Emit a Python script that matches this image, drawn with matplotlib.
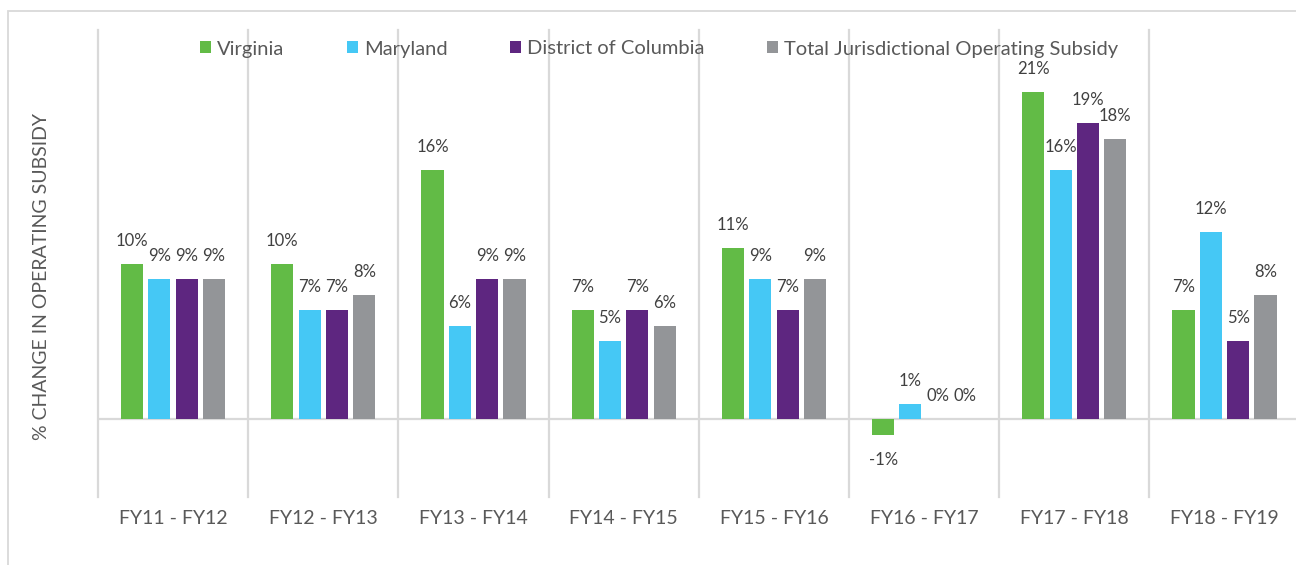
import matplotlib
matplotlib.use("Agg")
import matplotlib.pyplot as plt
from matplotlib.patches import Rectangle
import numpy as np

plt.rcParams['font.family'] = ['Lato', 'DejaVu Sans']

categories = ["FY11 - FY12", "FY12 - FY13", "FY13 - FY14", "FY14 - FY15",
              "FY15 - FY16", "FY16 - FY17", "FY17 - FY18", "FY18 - FY19"]
series_names = ["Virginia", "Maryland", "District of Columbia",
                "Total Jurisdictional Operating Subsidy"]
virginia = [10, 10, 16, 7, 11, -1, 21, 7]
maryland = [9, 7, 6, 5, 9, 1, 16, 12]
dc = [9, 7, 9, 7, 7, 0, 19, 5]
total = [9, 8, 9, 6, 9, 0, 18, 8]
colors = ["#62BB46", "#45C8F5", "#5E2680", "#939598"]

W, H = 1296, 565
fig = plt.figure(figsize=(W / 100, H / 100), dpi=100)

# outer chart border
fig.patches.append(Rectangle((8 / W, -0.05), 1.1, 1 - 11 / H + 0.05,
                             transform=fig.transFigure, fill=False,
                             edgecolor="#D9D9D9", lw=1.3, zorder=0))

left = 98 / W
width = 150.2 * 8 / W
top = 1 - 30 / H
bottom = 1 - 497 / H
ax = fig.add_axes([left, bottom, width, top - bottom])
ax.set_facecolor("none")

x = np.arange(len(categories))
pitch = 0.182
bw = 0.147
all_series = [virginia, maryland, dc, total]
for i, (vals, name, c) in enumerate(zip(all_series, series_names, colors)):
    xs = x + (i - 1.5) * pitch
    ax.bar(xs, vals, width=bw, color=c, label=name, zorder=3)
    for xi, v in zip(xs, vals):
        off = 16.5 if v >= 0 else -18
        ax.annotate(f"{v:.0f}%", (xi, v), xytext=(0, off),
                    textcoords="offset points", ha="center", va="center",
                    fontsize=12, color="#404040", zorder=4)

ax.set_xlim(-0.5, len(categories) - 0.5)
ax.set_ylim(-5, 25)
ax.axhline(0, color="#D9D9D9", lw=1.6, zorder=2)
for b in np.arange(-0.5, len(categories) + 0.5, 1):
    ax.axvline(b, color="#D9D9D9", lw=1.6, zorder=1, clip_on=False)

for s in ax.spines.values():
    s.set_visible(False)
ax.set_yticks([])
ax.set_xticks(x)
ax.set_xticklabels(categories, fontsize=14, color="#595959")
ax.tick_params(axis="x", length=0, pad=9)

fig.text(42 / W, 1 - 277 / H, "% CHANGE IN OPERATING SUBSIDY", rotation=90,
         ha="center", va="center", fontsize=14, color="#595959")

leg = ax.legend(loc="center", bbox_to_anchor=(((200 + 1118) / 2 - 98) / (150.2 * 8),
                                              (497 - 49) / 467),
                ncol=4, frameon=False, fontsize=14.5, handlelength=0.55,
                handleheight=0.55, handletextpad=0.3, columnspacing=3.1,
                borderaxespad=0)
for t in leg.get_texts():
    t.set_color("#595959")

fig.savefig("out.png", dpi=100)
